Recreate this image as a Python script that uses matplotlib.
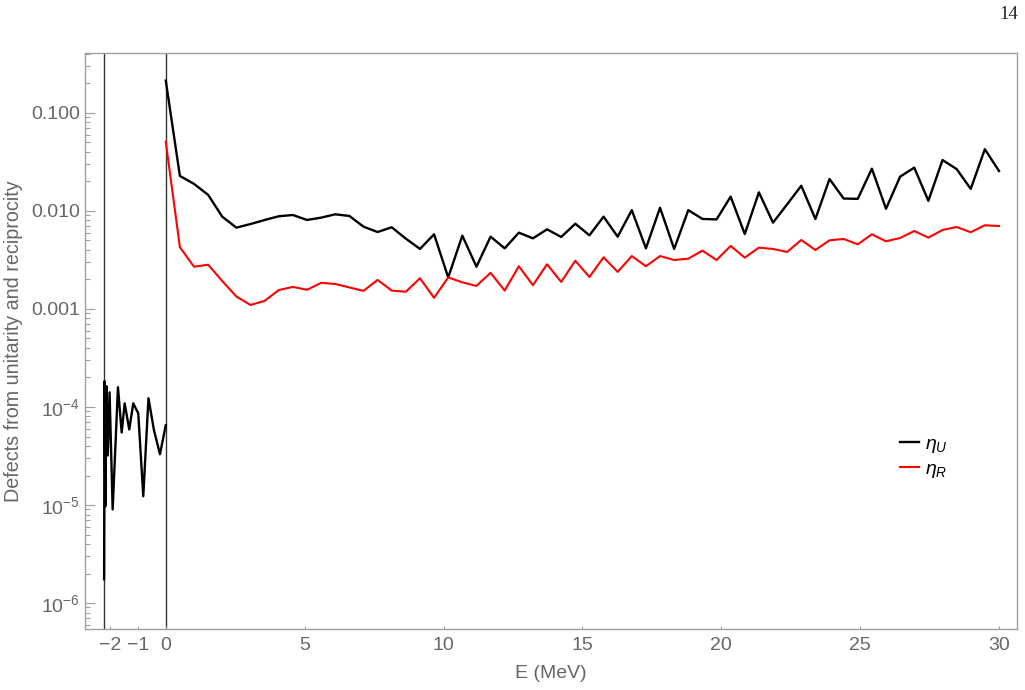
import numpy as np
import matplotlib
matplotlib.use('Agg')
import matplotlib.pyplot as plt
from matplotlib.ticker import LogLocator, NullFormatter

# positive energies: 60 evenly spaced points from 0 to 30 MeV
energy = np.linspace(0, 30, 60)

eta_u = [0.214, 0.0228, 0.0189, 0.0146, 0.00875, 0.00676, 0.00736, 0.00809,
         0.00883, 0.0091, 0.0081, 0.00855, 0.00925, 0.0089, 0.00692, 0.0061,
         0.00682, 0.00522, 0.0041, 0.00578, 0.0021, 0.0056, 0.0027, 0.00547,
         0.00416, 0.00601, 0.00526, 0.0065, 0.00543, 0.00741, 0.00565,
         0.00875, 0.00547, 0.0102, 0.00416, 0.0108, 0.0041, 0.0102, 0.0083,
         0.0082, 0.0140, 0.00582, 0.0155, 0.0076, 0.0117, 0.0181, 0.00828,
         0.0212, 0.0134, 0.0133, 0.0270, 0.01054, 0.0224, 0.0277, 0.0127,
         0.0331, 0.0268, 0.0168, 0.0427, 0.0256]

eta_r = [0.0509, 0.00427, 0.0027, 0.00283, 0.00193, 0.00134, 0.0011, 0.00121,
         0.00156, 0.00168, 0.00157, 0.00185, 0.0018, 0.00166, 0.00153,
         0.00198, 0.00154, 0.0015, 0.00206, 0.0013, 0.0021, 0.00187, 0.00172,
         0.00234, 0.00154, 0.00273, 0.00175, 0.00286, 0.00189, 0.00311,
         0.00212, 0.00337, 0.00239, 0.00347, 0.00273, 0.00347, 0.00316,
         0.00326, 0.00394, 0.00316, 0.0044, 0.00334, 0.00423, 0.0041,
         0.00382, 0.00506, 0.0040, 0.00502, 0.00518, 0.00457, 0.00578,
         0.00491, 0.0053, 0.00625, 0.00535, 0.0064, 0.00687, 0.00607,
         0.00715, 0.00703]

# bound-state region, between the deuteron pole and threshold
energy_neg = [-2.22, -2.204, -2.175, -2.132, -2.088, -2.023, -1.912, -1.721,
              -1.588, -1.48, -1.314, -1.17, -0.99, -0.81, -0.623, -0.425,
              -0.209, 0.0]
eta_u_neg = [1.75e-6, 1.83e-4, 9.7e-6, 1.63e-4, 3.2e-5, 1.41e-4, 9.0e-6,
             1.59e-4, 5.5e-5, 1.09e-4, 5.9e-5, 1.09e-4, 8.6e-5, 1.23e-5,
             1.23e-4, 5.8e-5, 3.3e-5, 6.5e-5]

deuteron_pole = -2.2246

x_ticks = [-2, -1, 0, 5, 10, 15, 20, 25, 30]
y_ticks = [1e-6, 1e-5, 1e-4, 1e-3, 1e-2, 1e-1]
y_tick_labels = ['$10^{-6}$', '$10^{-5}$', '$10^{-4}$', '0.001', '0.010', '0.100']

plt.rcParams['font.family'] = ['Liberation Sans', 'DejaVu Sans']
plt.rcParams['mathtext.fontset'] = 'custom'
plt.rcParams['mathtext.rm'] = 'Liberation Sans'
plt.rcParams['mathtext.it'] = 'Liberation Sans:italic'

frame_col = '#a0a0a0'
text_col = '#666666'

fig = plt.figure(figsize=(10.25, 6.9), dpi=100)
ax = fig.add_axes([0.0826, 0.0884, 0.9099, 0.8352])

ax.axvline(deuteron_pole, color='#333333', lw=1.0, zorder=1)
ax.axvline(0, color='#333333', lw=1.0, zorder=1)

ax.plot(energy_neg, eta_u_neg, color='black', lw=1.7)
ax.plot(energy, eta_u, color='black', lw=1.7, label=r'$\eta_U$')
ax.plot(energy, eta_r, color='red', lw=1.5, label=r'$\eta_R$')

ax.set_yscale('log')
ax.set_xlim(-2.92, 30.66)
ax.set_ylim(5.43e-7, 0.412)

ax.set_xticks(x_ticks)
ax.set_xticklabels(['\u22122', '\u22121', '0', '5', '10', '15', '20', '25', '30'])
ax.set_yticks(y_ticks)
ax.set_yticklabels(y_tick_labels)
ax.yaxis.set_minor_locator(LogLocator(base=10, subs=np.arange(2, 10)))
ax.yaxis.set_minor_formatter(NullFormatter())

ax.tick_params(axis='both', which='both', direction='in', colors=frame_col,
               labelcolor=text_col, labelsize=14)
ax.tick_params(axis='y', which='major', length=7, width=0.8)
ax.tick_params(axis='y', which='minor', length=3.5, width=0.8)
ax.tick_params(axis='x', which='major', length=2.5, width=0.8, pad=6)
for side in ['left', 'right', 'top', 'bottom']:
    ax.spines[side].set_color(frame_col)
    ax.spines[side].set_linewidth(1.0)

ax.set_xlabel('E (MeV)', color=text_col, fontsize=14, labelpad=8)
ax.set_ylabel('Defects from unitarity and reciprocity', color=text_col,
              fontsize=14.2, labelpad=6)

ax.legend(loc='center left', bbox_to_anchor=(0.874, 0.298), frameon=False,
          fontsize=14, handlelength=1.0, handletextpad=0.3, labelspacing=0.28,
          borderaxespad=0, borderpad=0)

fig.text(0.993, 0.991, '14', family='Liberation Serif', fontsize=13.5,
         ha='right', va='top', color='#222222')

fig.savefig('out.png', dpi=100)
